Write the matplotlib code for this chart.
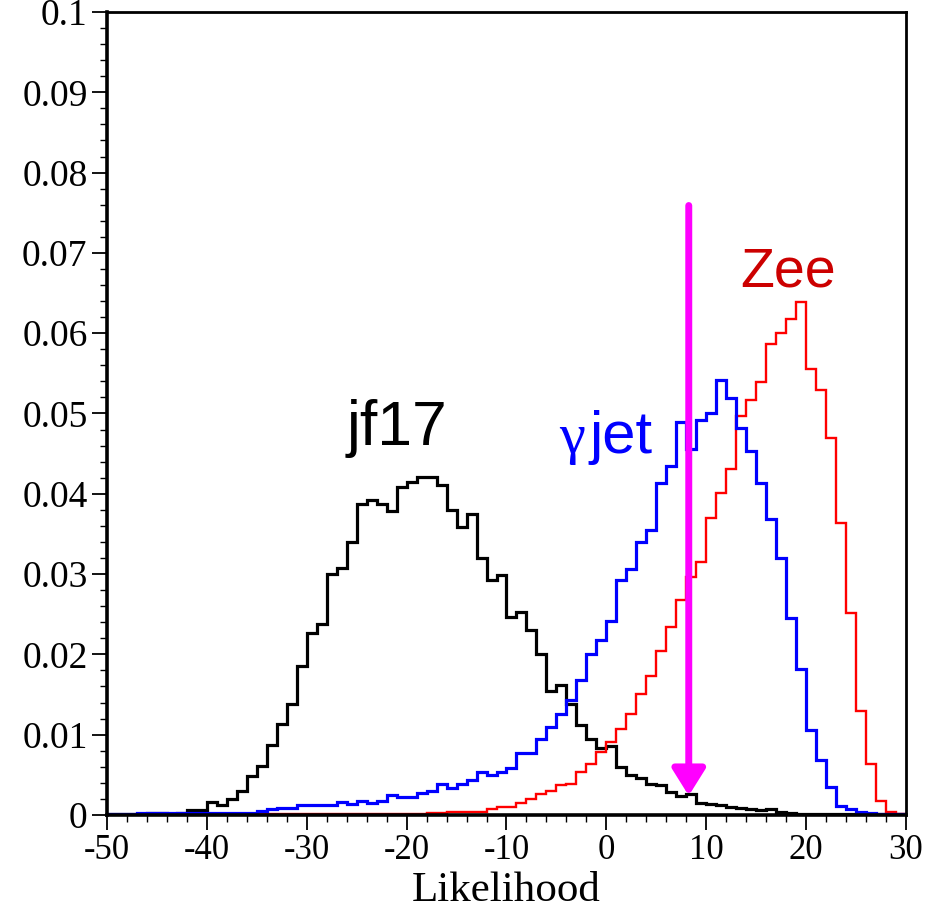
import numpy as np
import matplotlib
matplotlib.use("Agg")
import matplotlib.pyplot as plt
from matplotlib.ticker import MultipleLocator, FuncFormatter

# ── Data: bin contents, 1-unit bins from -50 to 30 ──
edges = np.arange(-50, 31, 1)

jf17 = [0.0001, 0.0001, 0.0001, 0.0001, 0.0002, 0.0002, 0.0001, 0.0003, 0.0006, 0.0006,
        0.0016, 0.0013, 0.0020, 0.0030, 0.0049, 0.0061, 0.0087, 0.0113, 0.0138, 0.0185,
        0.0226, 0.0238, 0.0300, 0.0307, 0.0340, 0.0387, 0.0392, 0.0387, 0.0379, 0.0409,
        0.0415, 0.0421, 0.0421, 0.0411, 0.0380, 0.0359, 0.0375, 0.0320, 0.0293, 0.0299,
        0.0247, 0.0253, 0.0230, 0.0200, 0.0154, 0.0162, 0.0138, 0.0112, 0.0095, 0.0083,
        0.0086, 0.0060, 0.0050, 0.0046, 0.0039, 0.0037, 0.0028, 0.0023, 0.0026, 0.0015,
        0.0014, 0.0012, 0.0010, 0.0009, 0.0007, 0.0006, 0.0007, 0.0004, 0.0002, 0.0001,
        0.0001, 0.0001, 0.0001, 0.0001, 0.0001, 0.0001, 0.0001, 0.0001, 0.0001, 0.0001]

gamma_jet = [0.0001, 0.0001, 0.0001, 0.0002, 0.0002, 0.0002, 0.0002, 0.0002, 0.0002, 0.0002,
             0.0002, 0.0002, 0.0003, 0.0002, 0.0003, 0.0005, 0.0007, 0.0009, 0.0009, 0.0013,
             0.0013, 0.0013, 0.0013, 0.0016, 0.0014, 0.0017, 0.0015, 0.0018, 0.0025, 0.0022,
             0.0022, 0.0027, 0.0030, 0.0039, 0.0034, 0.0039, 0.0043, 0.0053, 0.0050, 0.0053,
             0.0058, 0.0077, 0.0077, 0.0094, 0.0110, 0.0126, 0.0143, 0.0168, 0.0201, 0.0218,
             0.0242, 0.0292, 0.0306, 0.0340, 0.0355, 0.0413, 0.0434, 0.0490, 0.0456, 0.0492,
             0.0501, 0.0542, 0.0519, 0.0482, 0.0453, 0.0413, 0.0369, 0.0320, 0.0245, 0.0182,
             0.0106, 0.0068, 0.0035, 0.0011, 0.0008, 0.0004, 0.0002, 0.0001, 0.0001, 0.0001]

zee = [0.0, 0.0, 0.0, 0.0, 0.0, 0.0, 0.0, 0.0, 0.0, 0.0,
       0.0, 0.0001, 0.0001, 0.0001, 0.0001, 0.0001, 0.0001, 0.0001, 0.0001, 0.0001,
       0.0001, 0.0001, 0.0001, 0.0001, 0.0001, 0.0001, 0.0001, 0.0001, 0.0001, 0.0001,
       0.0001, 0.0001, 0.0002, 0.0002, 0.0004, 0.0004, 0.0004, 0.0004, 0.0007, 0.0010,
       0.0010, 0.0015, 0.0020, 0.0026, 0.0030, 0.0037, 0.0039, 0.0054, 0.0064, 0.0079,
       0.0091, 0.0107, 0.0126, 0.0151, 0.0173, 0.0204, 0.0234, 0.0268, 0.0296, 0.0315,
       0.0370, 0.0401, 0.0431, 0.0497, 0.0517, 0.0539, 0.0587, 0.0600, 0.0618, 0.0639,
       0.0555, 0.0529, 0.0469, 0.0364, 0.0252, 0.0130, 0.0063, 0.0018, 0.0004, 0.0001]

CUT = 8.25          # likelihood cut marked by the arrow
ARROW_TOP = 0.0759
ARROW_TIP = 0.0024

plt.rcParams["axes.unicode_minus"] = False

fig = plt.figure(figsize=(9.37, 9.16), dpi=100)
ax = fig.add_axes([0.1142, 0.1103, 0.8527, 0.8766])

ax.stairs(jf17, edges, color="black", lw=2.3)
ax.stairs(zee, edges, color="red", lw=1.7)
ax.stairs(gamma_jet, edges, color="blue", lw=2.3)

ax.annotate("", xy=(CUT, ARROW_TIP), xytext=(CUT, ARROW_TOP),
            arrowprops=dict(arrowstyle="-|>,head_length=0.8,head_width=0.5",
                            color="magenta", lw=5, mutation_scale=20,
                            shrinkA=0, shrinkB=0))

# labels
ax.text(-26, 0.0461, "jf17", fontsize=45, family="Liberation Sans", color="black")
ax.text(-4.7, 0.0451, "γ", fontsize=42, family="Liberation Serif", color="blue")
ax.text(-1.7, 0.0451, "jet", fontsize=43, family="Liberation Sans", color="blue")
ax.text(13.4, 0.0658, "Zee", fontsize=40, family="Liberation Sans", color="#cc0000")

ax.set_xlim(-50, 30)
ax.set_ylim(0, 0.1)
ax.xaxis.set_major_locator(MultipleLocator(10))
ax.xaxis.set_minor_locator(MultipleLocator(2))
ax.yaxis.set_major_locator(MultipleLocator(0.01))
ax.yaxis.set_minor_locator(MultipleLocator(0.002))
ax.yaxis.set_major_formatter(FuncFormatter(lambda v, p: "0" if abs(v) < 1e-9 else f"{v:g}"))
ax.xaxis.set_major_formatter(FuncFormatter(lambda v, p: f"{v:g}"))

ax.tick_params(which="major", direction="out", length=11, width=1.3, pad=3)
ax.tick_params(which="minor", direction="out", length=5, width=1.0)
for lab in ax.get_xticklabels():
    lab.set_family("Liberation Serif")
    lab.set_fontsize(25)
for lab in ax.get_yticklabels():
    lab.set_family("Liberation Serif")
    lab.set_fontsize(27)

for s in ax.spines.values():
    s.set_linewidth(2)
ax.spines["left"].set_linewidth(2.6)
ax.spines["bottom"].set_linewidth(2.6)

ax.set_xlabel("Likelihood", fontsize=31, family="Liberation Serif", labelpad=3)

fig.savefig("out.png", dpi=100)
